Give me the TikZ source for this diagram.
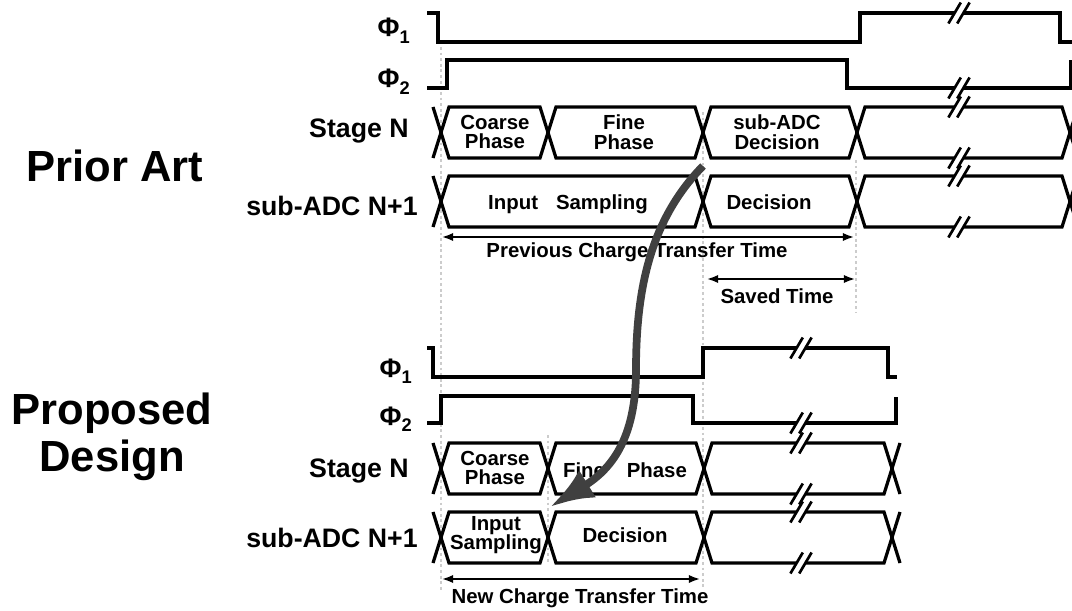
\documentclass[tikz,border=0pt]{standalone}
\usepackage{fontspec}
\setmainfont{Liberation Sans}
\usetikzlibrary{arrows.meta}

% one data slot of a bus: x1, x2, top, bottom
\newcommand{\busseg}[4]{%
  \draw[wave] (#1,{(#3+#4)/2}) -- ({#1+8},#3) -- ({#2-8},#3) -- (#2,{(#3+#4)/2})
    -- ({#2-8},#4) -- ({#1+8},#4) -- cycle;}
% time break mark on a line: x, y
\newcommand{\brk}[2]{%
  \fill[white] ({#1-7.35},{#2+5}) -- ({#1-1.45},{#2-5}) -- ({#1+7.35},{#2-5}) -- ({#1+1.45},{#2+5}) -- cycle;
  \draw[brkline] ({#1-10.6},{#2+10.5}) -- ({#1+1.8},{#2-10.5});
  \draw[brkline] ({#1-1.8},{#2+10.5}) -- ({#1+10.6},{#2-10.5});}
\newcommand{\sub}[1]{\raisebox{-4.3pt}{\fontsize{13}{13}\selectfont #1}}

\begin{document}
\begin{tikzpicture}[x=0.025cm,y=-0.025cm,
    wave/.style={line width=2.3pt},
    brkline/.style={line width=1.9pt},
    guide/.style={gray!40,line width=2pt,dash pattern=on 2pt off 2pt},
    span/.style={{Latex[length=2.8mm,width=2.1mm]}-{Latex[length=2.8mm,width=2.1mm]},line width=1.4pt},
    lbl/.style={font=\fontsize{14.5}{14}\selectfont\bfseries,align=center,inner sep=0pt},
    rowlbl/.style={font=\fontsize{19}{20}\selectfont\bfseries,anchor=base east,inner sep=0pt},
    title/.style={font=\fontsize{31}{33}\selectfont\bfseries,align=center,inner sep=0pt},
    move/.style={draw=black!75,line width=5.5pt,-{Latex[length=11mm,width=8mm]}}]
  \useasboundingbox (0,0) rectangle (1072,611);
  \clip (0,0) rectangle (1072,611);

  % guides
  \draw[guide] (441,47) -- (441,590);
  \draw[guide] (703,112) -- (703,590);
  \draw[guide] (856,160) -- (856,312);
  \draw[guide] (548,435) -- (548,563);

  % ---- prior art
  \node[title] (prior) at (115,166) {Prior Art};
  \node[rowlbl] (p1a) at (410,37) {Φ\sub{1}};
  \node[rowlbl] (p2a) at (410,88) {Φ\sub{2}};
  \node[rowlbl] (stga) at (409,137) {Stage N};
  \node[rowlbl] (adca) at (418,215) {sub-ADC N+1};

  \draw[wave] (427,13) -- (438,13) -- (438,42) -- (860,42) -- (860,13) -- (1060,13) -- (1060,42) -- (1075,42);
  \draw[wave] (427,88) -- (447,88) -- (447,60) -- (847,60) -- (847,88) -- (1071,88) -- (1071,60);

  \draw[wave] (433,107) -- (441,132.5) -- (433,158);
  \busseg{441}{548}{107}{158}
  \busseg{548}{703}{107}{158}
  \busseg{703}{857}{107}{158}
  \busseg{857}{1070}{107}{158}
  \draw[wave] (1078,107) -- (1070,132.5) -- (1078,158);

  \draw[wave] (433,176) -- (441,201.5) -- (433,227);
  \busseg{441}{703}{176}{227}
  \busseg{703}{857}{176}{227}
  \busseg{857}{1070}{176}{227}
  \draw[wave] (1078,176) -- (1070,201.5) -- (1078,227);

  \foreach \y in {13,88,107,158,176,227} {\brk{959}{\y}}

  \node[lbl] (coarsea) at (495,132) {Coarse\\Phase};
  \node[lbl] (finea) at (624,132) {Fine\\Phase};
  \node[lbl] (deca) at (777,132) {sub-ADC\\Decision};
  \node[lbl] (sampa) at (568,204) {Input\hspace{0.88em}Sampling};
  \node[lbl] (decb) at (769,202) {Decision};

  \coordinate (ptl) at (442,237);
  \coordinate (ptr) at (854,237);
  \draw[span] (ptl) -- (ptr);
  \node[lbl] (prevt) at (637,252) {Previous Charge Transfer Time};
  \coordinate (svl) at (707,279);
  \coordinate (svr) at (855,279);
  \draw[span] (svl) -- (svr);
  \node[lbl] (savet) at (777,296) {Saved Time};

  % ---- proposed design
  \node[title] (prop) at (112,437) {Proposed\\Design};
  \node[rowlbl] (p1b) at (412,377) {Φ\sub{1}};
  \node[rowlbl] (p2b) at (412,425) {Φ\sub{2}};
  \node[rowlbl] (stgb) at (409,477) {Stage N};
  \node[rowlbl] (adcb) at (418,547) {sub-ADC N+1};

  \draw[wave] (427,348) -- (433,348) -- (433,377) -- (703,377) -- (703,348) -- (888,348) -- (888,377) -- (897,377);
  \draw[wave] (427,423) -- (441,423) -- (441,396) -- (693,396) -- (693,423) -- (896,423) -- (896,397);

  \draw[wave] (433,443) -- (441,468.5) -- (433,494);
  \busseg{441}{548}{443}{494}
  \busseg{548}{704}{443}{494}
  \busseg{704}{892}{443}{494}
  \draw[wave] (900,443) -- (892,468.5) -- (900,494);

  \draw[wave] (433,512) -- (441,537.5) -- (433,563);
  \busseg{441}{548}{512}{563}
  \busseg{548}{704}{512}{563}
  \busseg{704}{892}{512}{563}
  \draw[wave] (900,512) -- (892,537.5) -- (900,563);

  \foreach \y in {348,423,443,494,512,563} {\brk{801}{\y}}

  \node[lbl] (coarseb) at (495,468) {Coarse\\Phase};
  \node[lbl] (fineb) at (625,470) {Fine\hspace{1.07em}Phase};
  \node[lbl] (sampb) at (496,535) {Input\\Sampling};
  \node[lbl] (decc) at (625,535) {Decision};

  \coordinate (ntl) at (442,579);
  \coordinate (ntr) at (700,579);
  \draw[span] (ntl) -- (ntr);
  \node[lbl] (newt) at (580,598) {New Charge Transfer Time};

  % decision moved forward
  \coordinate (src) at (703,166);
  \coordinate (dst) at (550,507);
  \draw[move] (src) .. controls (650,220) and (636,290) .. (636,370)
    .. controls (636,440) and (610,470) .. (dst);
\end{tikzpicture}
\end{document}
